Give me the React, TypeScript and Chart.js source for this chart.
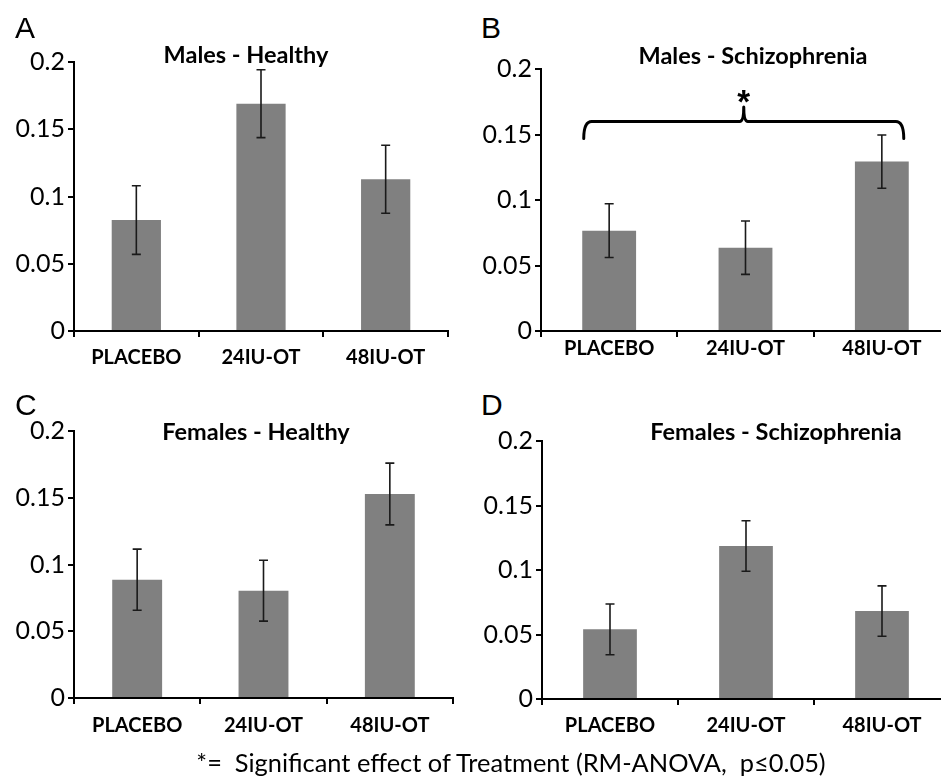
import React, { useEffect, useRef } from "react";
import { Chart, registerables } from "chart.js";

Chart.register(...registerables);

// ---------- data ----------
const categories = ["PLACEBO", "24IU-OT", "48IU-OT"];
const yTickLabels = ["0", "0.05", "0.1", "0.15", "0.2"];

const malesHealthy = [0.0825, 0.169, 0.1128];
const malesHealthyErr = [0.0255, 0.0252, 0.0253];

const malesSchizophrenia = [0.0766, 0.0636, 0.1293];
const malesSchizophreniaErr = [0.0205, 0.0204, 0.0203];

const femalesHealthy = [0.0886, 0.0804, 0.1528];
const femalesHealthyErr = [0.0229, 0.0228, 0.0231];

const femalesSchizophrenia = [0.054, 0.1186, 0.0682];
const femalesSchizophreniaErr = [0.0197, 0.0196, 0.0195];

// significance bracket (in data units): line level, end level, peak level, star level
const bracketLevels = [0.16, 0.147, 0.171, 0.18];

const footnote = "*=  Significant effect of Treatment (RM-ANOVA,  p\u22640.05)";

// ---------- layout ----------
const Y_W = 70;
const X_H = 50;
const PAD_TOP = 20;
const PAD_RIGHT = 12;

type Panel = {
  letter: string;
  title: string;
  values: number[];
  errors: number[];
  L: number; R: number; T: number; B: number;
  titleX: number; titleBase: number;
  letterX: number; letterBase: number;
  xPad: number;
  bracket?: boolean;
};

const panels: Panel[] = [
  { letter: "A", title: "Males - Healthy", values: malesHealthy, errors: malesHealthyErr,
    L: 74, R: 448, T: 62, B: 331, titleX: 246, titleBase: 63.5, letterX: 15, letterBase: 38, xPad: 8.5 },
  { letter: "B", title: "Males - Schizophrenia", values: malesSchizophrenia, errors: malesSchizophreniaErr,
    L: 541, R: 950, T: 69, B: 331, titleX: 753, titleBase: 64.5, letterX: 481, letterBase: 38, xPad: 0, bracket: true },
  { letter: "C", title: "Females - Healthy", values: femalesHealthy, errors: femalesHealthyErr,
    L: 74, R: 453, T: 431, B: 698, titleX: 256, titleBase: 441, letterX: 15, letterBase: 415, xPad: 9.5 },
  { letter: "D", title: "Females - Schizophrenia", values: femalesSchizophrenia, errors: femalesSchizophreniaErr,
    L: 542, R: 950, T: 441, B: 699, titleX: 776, titleBase: 441, letterX: 481, letterBase: 415, xPad: 8.8 },
];

const errorBarPlugin = {
  id: "errorBars",
  afterDatasetsDraw(chart: any, _args: any, opts: any) {
    const errs: number[] = opts.errors || [];
    const meta = chart.getDatasetMeta(0);
    const ys = chart.scales.y;
    const vals = chart.data.datasets[0].data as number[];
    const ctx = chart.ctx;
    ctx.save();
    ctx.strokeStyle = "#1a1a1a";
    ctx.lineWidth = 1.6;
    meta.data.forEach((bar: any, i: number) => {
      const x = bar.x;
      const yTop = ys.getPixelForValue(vals[i] + errs[i]);
      const yBot = ys.getPixelForValue(vals[i] - errs[i]);
      ctx.beginPath();
      ctx.moveTo(x, yTop);
      ctx.lineTo(x, yBot);
      ctx.moveTo(x - 4.5, yTop);
      ctx.lineTo(x + 4.5, yTop);
      ctx.moveTo(x - 4.5, yBot);
      ctx.lineTo(x + 4.5, yBot);
      ctx.stroke();
    });
    ctx.restore();
  },
};

const bracketPlugin = {
  id: "bracket",
  afterDatasetsDraw(chart: any, _args: any, opts: any) {
    if (!opts.show) return;
    const meta = chart.getDatasetMeta(0);
    const ys = chart.scales.y;
    const first = meta.data[0];
    const last = meta.data[meta.data.length - 1];
    const xl = first.x - first.width / 2 + 1.5;
    const xr = last.x + last.width / 2 - 5;
    const xc = (xl + xr) / 2;
    const yh = ys.getPixelForValue(bracketLevels[0]);
    const ye = ys.getPixelForValue(bracketLevels[1]);
    const yp = ys.getPixelForValue(bracketLevels[2]);
    const yStar = ys.getPixelForValue(bracketLevels[3]);
    const r = 8;
    const r2 = 4;
    const ctx = chart.ctx;
    ctx.save();
    ctx.strokeStyle = "#000";
    ctx.lineWidth = 3;
    ctx.lineCap = "round";
    ctx.lineJoin = "round";
    ctx.beginPath();
    ctx.moveTo(xl, ye);
    ctx.quadraticCurveTo(xl, yh, xl + r, yh);
    ctx.lineTo(xc - r2, yh);
    ctx.quadraticCurveTo(xc, yh, xc, yp);
    ctx.quadraticCurveTo(xc, yh, xc + r2, yh);
    ctx.lineTo(xr - r, yh);
    ctx.quadraticCurveTo(xr, yh, xr, ye);
    ctx.stroke();
    ctx.fillStyle = "#000";
    const fs = 33;
    ctx.font = `bold ${fs}px 'Liberation Sans', Arial, sans-serif`;
    ctx.textAlign = "center";
    ctx.textBaseline = "alphabetic";
    ctx.fillText("*", xc, yStar + 0.525 * fs);
    ctx.restore();
  },
};

function PanelChart({ p }: { p: Panel }) {
  const ref = useRef<HTMLCanvasElement | null>(null);
  useEffect(() => {
    if (!ref.current) return;
    const chart = new Chart(ref.current, {
      type: "bar",
      data: {
        labels: categories,
        datasets: [
          {
            data: p.values,
            backgroundColor: "#808080",
            borderWidth: 0,
            barPercentage: 0.395,
            categoryPercentage: 1,
          },
        ],
      },
      options: {
        animation: false,
        responsive: true,
        maintainAspectRatio: false,
        layout: { padding: { top: PAD_TOP, right: PAD_RIGHT, left: 0, bottom: 0 } },
        plugins: {
          legend: { display: false },
          tooltip: { enabled: false },
          title: { display: false },
          errorBars: { errors: p.errors },
          bracket: { show: !!p.bracket },
        } as any,
        scales: {
          x: {
            type: "category",
            grid: {
              display: true,
              drawOnChartArea: false,
              drawTicks: true,
              tickLength: 6,
              offset: true,
              color: "#000",
              lineWidth: 2,
            },
            border: { display: true, color: "#000", width: 2 },
            ticks: {
              font: { family: "Lato", weight: "bold", size: 20 },
              color: "#000",
              padding: p.xPad,
              maxRotation: 0,
              autoSkip: false,
            },
            afterFit: (s: any) => {
              s.height = X_H;
            },
          },
          y: {
            min: 0,
            max: 0.2,
            ticks: {
              stepSize: 0.05,
              callback: (_v: any, i: number) => yTickLabels[i],
              font: { family: "Lato", size: 25 },
              color: "#000",
              padding: 3,
            },
            grid: {
              drawOnChartArea: false,
              drawTicks: true,
              tickLength: 6,
              color: "#000",
              lineWidth: 2,
            },
            border: { display: true, color: "#000", width: 2 },
            afterFit: (s: any) => {
              s.width = Y_W;
            },
          },
        },
      } as any,
      plugins: [errorBarPlugin, bracketPlugin],
    });
    return () => chart.destroy();
  }, [p]);

  const left = p.L - Y_W;
  const top = p.T - PAD_TOP;
  const width = p.R - p.L + Y_W + PAD_RIGHT;
  const height = p.B - p.T + PAD_TOP + X_H;
  return (
    <div style={{ position: "absolute", left, top, width, height }}>
      <canvas ref={ref} />
    </div>
  );
}

function Label({ text, x, base, size, family, weight, center }: any) {
  const asc = family.includes("Lato") ? 0.887 : 0.847;
  return (
    <div
      style={{
        position: "absolute",
        left: x,
        top: base - asc * size,
        transform: center ? "translateX(-50%)" : undefined,
        fontFamily: family,
        fontSize: size,
        fontWeight: weight,
        lineHeight: 1,
        whiteSpace: "pre",
        color: "#000",
      }}
    >
      {text}
    </div>
  );
}

export default function App() {
  return (
    <div
      style={{
        position: "absolute",
        left: 0,
        top: 0,
        width: 941,
        height: 778,
        overflow: "hidden",
        background: "#fff",
      }}
    >
      {panels.map((p) => (
        <React.Fragment key={p.letter}>
          <PanelChart p={p} />
          <Label text={p.letter} x={p.letterX} base={p.letterBase} size={30} family="'Liberation Sans', Arial, sans-serif" weight={400} />
          <Label text={p.title} x={p.titleX} base={p.titleBase} size={23.5} family="Lato, sans-serif" weight={700} center />
        </React.Fragment>
      ))}
      <Label text={footnote} x={511} base={773} size={25.4} family="Lato, sans-serif" weight={400} center />
    </div>
  );
}
